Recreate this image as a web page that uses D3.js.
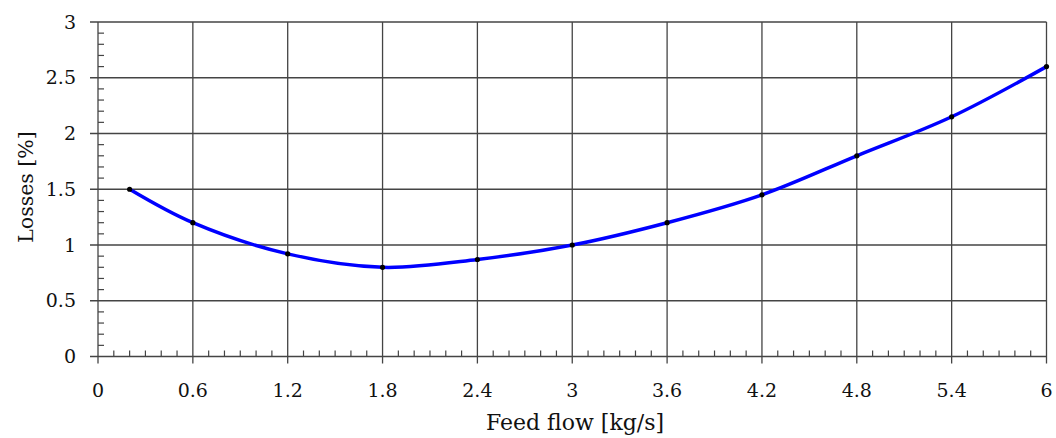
<!DOCTYPE html>
<html>
<head>
<meta charset="utf-8">
<script src="https://cdn.jsdelivr.net/npm/d3@7"></script>
<style>
  html, body { margin: 0; padding: 0; background: #fff; }
</style>
</head>
<body>
<svg id="chart" width="1056" height="438"></svg>
<script>
// Feed flow [kg/s] vs losses [%]
const feedFlow = [0.2, 0.6, 1.2, 1.8, 2.4, 3.0, 3.6, 4.2, 4.8, 5.4, 6.0];
const losses   = [1.5, 1.2, 0.92, 0.8, 0.87, 1.0, 1.2, 1.45, 1.8, 2.15, 2.6];
const xTicks = [0, 0.6, 1.2, 1.8, 2.4, 3, 3.6, 4.2, 4.8, 5.4, 6];
const yTicks = [0, 0.5, 1, 1.5, 2, 2.5, 3];

const FONT = "'DejaVu Serif', serif";

const svg = d3.select("#chart");
const m = { left: 98, right: 1046.5, top: 22, bottom: 356.5 };

const x = d3.scaleLinear().domain([0, 6]).range([m.left, m.right]);
const y = d3.scaleLinear().domain([0, 3]).range([m.bottom, m.top]);

const gridColor = "#444";

// grid
const g = svg.append("g");
g.selectAll(".vg").data(xTicks).join("line")
  .attr("x1", d => x(d)).attr("x2", d => x(d))
  .attr("y1", m.top).attr("y2", m.bottom + 7)
  .attr("stroke", gridColor).attr("stroke-width", 1.3);
g.selectAll(".hg").data(yTicks).join("line")
  .attr("x1", m.left - 8).attr("x2", m.right)
  .attr("y1", d => y(d)).attr("y2", d => y(d))
  .attr("stroke", gridColor).attr("stroke-width", 1.3);

// minor ticks
const xMinor = d3.range(0, 60).map(i => i / 10).filter(v => Math.round(v * 10) % 6 !== 0);
g.selectAll(".xm").data(xMinor).join("line")
  .attr("x1", d => x(d)).attr("x2", d => x(d))
  .attr("y1", m.bottom).attr("y2", m.bottom - 6)
  .attr("stroke", gridColor).attr("stroke-width", 1.2);
const yMinor = d3.range(0, 30).map(i => i / 10).filter(v => Math.round(v * 10) % 5 !== 0);
g.selectAll(".ym").data(yMinor).join("line")
  .attr("x1", m.left).attr("x2", m.left + 6)
  .attr("y1", d => y(d)).attr("y2", d => y(d))
  .attr("stroke", gridColor).attr("stroke-width", 1.2);

// tick labels
svg.append("g").selectAll("text").data(xTicks).join("text")
  .attr("x", d => x(d)).attr("y", 397)
  .attr("text-anchor", "middle").attr("font-size", 19)
  .attr("font-family", FONT).attr("fill", "#111")
  .text(d => d3.format("~g")(d));
svg.append("g").selectAll("text").data(yTicks).join("text")
  .attr("x", 76).attr("y", d => y(d) + 6.5)
  .attr("text-anchor", "end").attr("font-size", 19)
  .attr("font-family", FONT).attr("fill", "#111")
  .text(d => d3.format("~g")(d));

// axis titles
svg.append("text")
  .attr("x", 575).attr("y", 430)
  .attr("text-anchor", "middle").attr("font-size", 22)
  .attr("font-family", FONT).attr("fill", "#111")
  .text("Feed flow [kg/s]");
svg.append("text")
  .attr("transform", "translate(33,187) rotate(-90)")
  .attr("text-anchor", "middle").attr("font-size", 20.5)
  .attr("font-family", FONT).attr("fill", "#111")
  .text("Losses [%]");

// curve
const pts = feedFlow.map((v, i) => [v, losses[i]]);
svg.append("path")
  .datum(pts)
  .attr("fill", "none").attr("stroke", "#0000ff").attr("stroke-width", 3.5)
  .attr("d", d3.line().x(d => x(d[0])).y(d => y(d[1])).curve(d3.curveCatmullRom.alpha(0.5)));

svg.append("g").selectAll("circle").data(pts).join("circle")
  .attr("cx", d => x(d[0])).attr("cy", d => y(d[1])).attr("r", 2.6)
  .attr("fill", "#000");
</script>
</body>
</html>
